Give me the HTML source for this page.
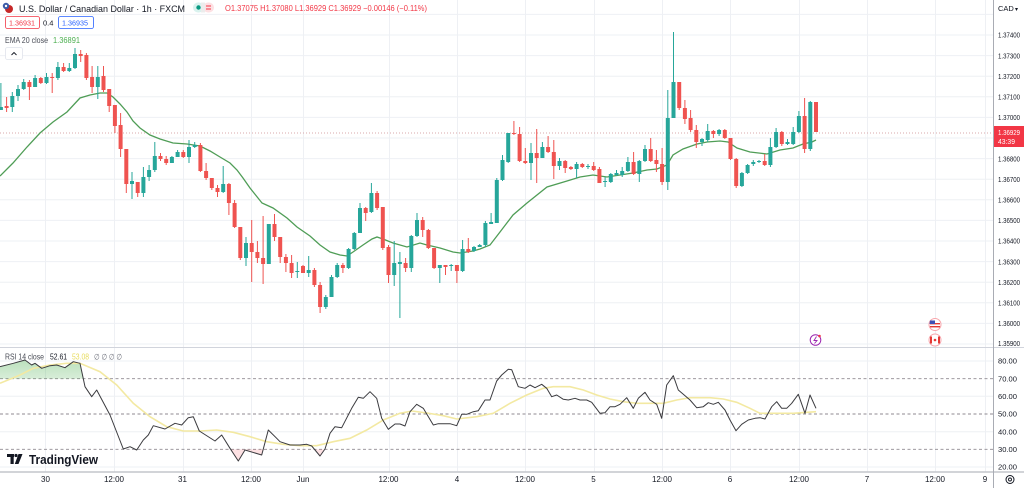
<!DOCTYPE html>
<html><head><meta charset="utf-8">
<style>
html,body{margin:0;padding:0;background:#fff;width:1024px;height:488px;overflow:hidden;}
svg{display:block;font-family:"Liberation Sans",sans-serif;}
.ax{font-size:7.5px;fill:#131722;}
.tm{font-size:8px;fill:#131722;text-anchor:middle;}
</style></head><body>
<svg id="c" width="1024" height="488" viewBox="0 0 1024 488" xmlns="http://www.w3.org/2000/svg">
<defs>
 <linearGradient id="gf" x1="0" y1="0" x2="0" y2="1">
  <stop offset="0" stop-color="#4caf50" stop-opacity="0.38"/>
  <stop offset="1" stop-color="#4caf50" stop-opacity="0.04"/>
 </linearGradient>
 <clipPath id="above70"><rect x="0" y="340" width="993" height="38.7"/></clipPath>
 <clipPath id="below30"><rect x="0" y="449.3" width="993" height="22"/></clipPath>
</defs>
<rect width="1024" height="488" fill="#fff"/>
<g stroke="#eef0f4" stroke-width="1">
 <line x1="0" x2="993" y1="14.4" y2="14.4"/><line x1="0" x2="993" y1="35" y2="35"/><line x1="0" x2="993" y1="55.6" y2="55.6"/><line x1="0" x2="993" y1="76.2" y2="76.2"/><line x1="0" x2="993" y1="96.8" y2="96.8"/><line x1="0" x2="993" y1="117.4" y2="117.4"/><line x1="0" x2="993" y1="138" y2="138"/><line x1="0" x2="993" y1="158.6" y2="158.6"/><line x1="0" x2="993" y1="179.2" y2="179.2"/><line x1="0" x2="993" y1="199.8" y2="199.8"/><line x1="0" x2="993" y1="220.4" y2="220.4"/><line x1="0" x2="993" y1="241" y2="241"/><line x1="0" x2="993" y1="261.6" y2="261.6"/><line x1="0" x2="993" y1="282.2" y2="282.2"/><line x1="0" x2="993" y1="302.8" y2="302.8"/><line x1="0" x2="993" y1="323.4" y2="323.4"/><line x1="0" x2="993" y1="344" y2="344"/>
 <line x1="0" x2="993" y1="361" y2="361"/><line x1="0" x2="993" y1="396.3" y2="396.3"/><line x1="0" x2="993" y1="431.7" y2="431.7"/><line x1="0" x2="993" y1="467" y2="467"/>
 <line x1="45.5" x2="45.5" y1="0" y2="472"/><line x1="114.5" x2="114.5" y1="0" y2="472"/><line x1="183.5" x2="183.5" y1="0" y2="472"/><line x1="251.5" x2="251.5" y1="0" y2="472"/><line x1="303.5" x2="303.5" y1="0" y2="472"/><line x1="389.5" x2="389.5" y1="0" y2="472"/><line x1="457.5" x2="457.5" y1="0" y2="472"/><line x1="525.5" x2="525.5" y1="0" y2="472"/><line x1="594.5" x2="594.5" y1="0" y2="472"/><line x1="662.5" x2="662.5" y1="0" y2="472"/><line x1="730.5" x2="730.5" y1="0" y2="472"/><line x1="799.5" x2="799.5" y1="0" y2="472"/><line x1="867.5" x2="867.5" y1="0" y2="472"/><line x1="935.5" x2="935.5" y1="0" y2="472"/><line x1="985.5" x2="985.5" y1="0" y2="472"/>
</g>
<!-- RSI dashed levels -->
<g stroke="#8f8a90" stroke-width="0.9" stroke-dasharray="3,2.5">
 <line x1="0" x2="993" y1="378.7" y2="378.7"/>
 <line x1="0" x2="993" y1="414" y2="414"/>
 <line x1="0" x2="993" y1="449.3" y2="449.3"/>
</g>
<!-- current price dotted line -->
<line x1="0" x2="993" y1="133" y2="133" stroke="#d8a8ab" stroke-width="1" stroke-dasharray="1,2"/>
<!-- EMA -->
<polyline fill="none" stroke="#4f9d56" stroke-width="1.3" points="0,176 13,163 27,147 40,133 53,122 67,112 80,98 90,95 100,93 107,93 113,97 120,104 127,112 133,121 140,128 150,135 160,139 173,143 187,144 200,146 210,151 220,157 230,163 237,170 243,178 250,188 262,203 273,208 287,218 297,227 310,236 320,245 330,252 340,255 347,256 353,252 363,245 372,239 377,237 383,239 393,243 407,247 420,243 427,245 440,248 453,252 460,253 473,251 480,249 490,245 500,232 513,215 527,203 547,187 567,181 580,177 593,175 607,177 620,175 633,173 647,170 657,169 667,165 673,155 683,149 697,144 707,142 720,141 728,142 737,148 750,152 767,154 780,150 793,148 803,144 812,142 816,140"/>
<g id="candles"></g>
<!-- RSI fills -->
<polygon clip-path="url(#above70)" fill="url(#gf)" points="0,366.7 13.3,363.3 25,360 31.7,365 35,363.3 41.7,368.3 50,365.7 56.7,365 65,367.7 73.3,361.7 80,363.3 85,386.7 91.7,396.7 100,400 0,400"/>
<polygon clip-path="url(#below30)" fill="#f23645" fill-opacity="0.15" points="215,441 221.7,435 230,448.3 238.3,461 245,450 261.7,455 268.3,430 290,445 300,445 306.7,444.3 311.7,446 320,456 325,449 330,433.3 330,449.3 215,449.3"/>
<!-- RSI MA (yellow) -->
<polyline fill="none" stroke="#f3e9a2" stroke-width="1.6" points="0,383.3 20,375 33.3,368.3 50,365 66.7,363.3 80,363.3 100,371.7 116.7,385 133.3,403.3 150,416.7 166.7,426.7 183.3,431 200,431 216.7,430 233.3,432.3 250,436.7 266.7,441.7 283.3,444.3 300,445.7 316.7,445.7 333.3,441.7 350,438.3 366.7,430 383.3,420 400,413.3 412,411 427,413 443.3,415.7 456.7,419 476.7,416.7 493.3,413.3 510,403.3 526.7,395 543.3,388.3 553.3,386.7 570,386.7 583.3,390 596.7,395 610,399 623.3,401.7 636.7,403.3 663.3,403.3 676.7,400 690,397.7 710,397.7 723.3,399 736.7,402.3 750,408.3 760,413.3 793.3,413.3 816,411.7"/>
<!-- RSI line -->
<polyline fill="none" stroke="#3b3b3f" stroke-width="1" stroke-linejoin="round" points="0,366.7 13.3,363.3 25,360 31.7,365 35,363.3 41.7,368.3 50,365.7 56.7,365 65,367.7 73.3,361.7 80,363.3 85,386.7 91.7,396.7 96.7,390 110,415 123.3,449 130,446.7 136.7,450 143.3,440 148.3,435 153.3,425.7 165,429 175,423.3 181.7,425 188.3,417.7 193.3,416.7 199.3,431 215,441 221.7,435 230,448.3 238.3,461 245,450 261.7,455 268.3,430 276.7,438.3 280,441.7 290,445 300,445 306.7,444.3 311.7,446 320,456 325,449 330,433.3 335,426.7 341.7,427.7 351.7,408.3 358.3,397.3 363.3,398.3 370,391.7 376.7,398.3 381.7,418.3 388.3,429.3 395,424 400,424 405,426 410,411.7 416.7,404.3 423.3,408.3 433.3,425 438.3,423.7 450,423.7 456.7,425.7 461.7,414.3 466.7,414.3 473.3,411.7 478.3,410.7 485,400 490,400 496.7,381 501.7,375 508.3,369.3 511.7,369.7 518.3,386.7 525,388.3 530,385 535,387.7 541.7,384.3 546.7,388.3 551.7,396.7 556.7,395 563.3,399.3 568.3,400 575,398.3 580,400 586.7,400 591.7,402.3 600,413.3 605,412.7 610,406.7 615,406.7 620,404.3 626.7,397.7 633.3,408.3 638.3,398.3 645,392.3 650,400 656.7,404.3 661.7,418.3 666.7,385 673.3,375.7 678.3,390 683.3,394.3 690,400 696.7,407.7 703.3,406.7 708.3,402.7 713.3,404.3 718.3,402.3 725,410 730,420 736,430.7 741.7,424.3 748.3,420 755,418.3 760,417.7 765,419 771.7,406.7 776.7,401.7 781.7,408.3 786.7,408.3 791.7,403.3 798.3,394.3 805,413.3 810,395 816,408.3"/>

<!-- separators -->
<line x1="0" x2="1024" y1="347.5" y2="347.5" stroke="#d1d4dc" stroke-width="1"/>
<line x1="0" x2="1024" y1="472" y2="472" stroke="#c4c6cc" stroke-width="1.5"/>
<line x1="993.5" x2="993.5" y1="0" y2="488" stroke="#a9acb4" stroke-width="1"/>

<!-- header -->
<g>
 <circle cx="9" cy="9" r="4" fill="#c62828"/>
 <circle cx="6" cy="6" r="3.2" fill="#3a5ba8"/>
 <circle cx="6" cy="6" r="1.2" fill="#fff"/>
 <text x="19" y="12" font-size="9.5" fill="#131722" textLength="166" lengthAdjust="spacingAndGlyphs">U.S. Dollar / Canadian Dollar · 1h · FXCM</text>
 <rect x="193" y="2.5" width="11" height="10" rx="5" fill="#d9f2ee"/>
 <rect x="203" y="2.5" width="11" height="10" rx="5" fill="#fde0e3"/>
 <rect x="201" y="2.5" width="4" height="10" fill="#ececec"/>
 <circle cx="198.5" cy="7.5" r="2.2" fill="#089981"/>
 <line x1="206" x2="211" y1="6" y2="6" stroke="#f23645" stroke-width="1"/>
 <line x1="206" x2="211" y1="9" y2="9" stroke="#f23645" stroke-width="1"/>
 <text x="225" y="11" font-size="8" fill="#f23645" textLength="202" lengthAdjust="spacingAndGlyphs">O1.37075 H1.37080 L1.36929 C1.36929 −0.00146 (−0.11%)</text>

 <rect x="5.5" y="16.5" width="34" height="12" rx="2" fill="#fff" stroke="#f23645" stroke-width="0.8"/>
 <text x="9" y="25.5" font-size="7.5" fill="#f23645" textLength="26" lengthAdjust="spacingAndGlyphs">1.36931</text>
 <text x="43" y="25.5" font-size="7.5" fill="#131722">0.4</text>
 <rect x="58.5" y="16.5" width="35" height="12" rx="2" fill="#fff" stroke="#2962ff" stroke-width="0.8"/>
 <text x="62" y="25.5" font-size="7.5" fill="#2962ff" textLength="26" lengthAdjust="spacingAndGlyphs">1.36935</text>

 <text x="5" y="43" font-size="8" fill="#4a4d57" textLength="43" lengthAdjust="spacingAndGlyphs">EMA 20 close</text>
 <text x="53" y="43" font-size="8" fill="#4caf50" textLength="27" lengthAdjust="spacingAndGlyphs">1.36891</text>

 <rect x="5.5" y="47.5" width="17" height="12" rx="2" fill="#fff" stroke="#e0e3eb" stroke-width="0.8"/>
 <polyline points="11.5,55 14,52.5 16.5,55" fill="none" stroke="#131722" stroke-width="0.9"/>
</g>

<!-- RSI legend -->
<text x="5" y="359.5" font-size="8" fill="#4a4d57" textLength="39" lengthAdjust="spacingAndGlyphs">RSI 14 close</text>
<text x="50" y="359.5" font-size="8" fill="#131722" textLength="17" lengthAdjust="spacingAndGlyphs">52.61</text>
<text x="72" y="359.5" font-size="8" fill="#e8dc5c" textLength="17" lengthAdjust="spacingAndGlyphs">53.08</text>
<text x="94" y="359.5" font-size="8" fill="#6a6d78" textLength="28" lengthAdjust="spacingAndGlyphs">∅ ∅ ∅ ∅</text>

<!-- TradingView logo -->
<g fill="#131722">
 <rect x="7" y="454" width="7" height="3"/>
 <rect x="10.5" y="454" width="3.2" height="10"/>
 <circle cx="16" cy="455.5" r="1.6"/>
 <polygon points="18.5,454 22.5,454 18.5,464 14.8,464"/>
 <text x="29" y="464" font-size="13" font-weight="bold" textLength="69" lengthAdjust="spacingAndGlyphs">TradingView</text>
</g>

<!-- events -->
<g>
 <circle cx="815.5" cy="340" r="5.3" fill="#fff" stroke="#9c27b0" stroke-width="1"/>
 <polyline points="816.5,336.5 814,340.5 817,340.5 814.5,343.5" fill="none" stroke="#9c27b0" stroke-width="0.9"/>
 <circle cx="819.5" cy="336" r="1.3" fill="#f23645"/>
 <circle cx="935" cy="324.5" r="6" fill="#fff" stroke="#f7a5ab" stroke-width="1"/>
 <rect x="930" y="323" width="10" height="1.4" fill="#e53935"/>
 <rect x="930" y="326" width="10" height="1.4" fill="#e53935"/>
 <path d="M930,320.5 h5 v3.5 h-5.5z" fill="#3f51b5"/>
 <circle cx="935" cy="340" r="6" fill="#fff" stroke="#f7a5ab" stroke-width="1"/>
 <rect x="930" y="336.5" width="2" height="7" fill="#e53935"/>
 <rect x="938" y="336.5" width="2" height="7" fill="#e53935"/>
 <circle cx="935" cy="340" r="1.3" fill="#e53935"/>
</g>

<!-- right axis -->
<text x="998" y="11" font-size="7.5" fill="#131722">CAD</text>
<text x="1015" y="11" font-size="6" fill="#131722">▾</text>
<g class="ax">
 <text x="998" y="37.7" textLength="22" lengthAdjust="spacingAndGlyphs">1.37400</text>
 <text x="998" y="58.3" textLength="22" lengthAdjust="spacingAndGlyphs">1.37300</text>
 <text x="998" y="78.9" textLength="22" lengthAdjust="spacingAndGlyphs">1.37200</text>
 <text x="998" y="99.5" textLength="22" lengthAdjust="spacingAndGlyphs">1.37100</text>
 <text x="998" y="120.1" textLength="22" lengthAdjust="spacingAndGlyphs">1.37000</text>
 <text x="998" y="161.3" textLength="22" lengthAdjust="spacingAndGlyphs">1.36800</text>
 <text x="998" y="181.9" textLength="22" lengthAdjust="spacingAndGlyphs">1.36700</text>
 <text x="998" y="202.5" textLength="22" lengthAdjust="spacingAndGlyphs">1.36600</text>
 <text x="998" y="223.1" textLength="22" lengthAdjust="spacingAndGlyphs">1.36500</text>
 <text x="998" y="243.7" textLength="22" lengthAdjust="spacingAndGlyphs">1.36400</text>
 <text x="998" y="264.3" textLength="22" lengthAdjust="spacingAndGlyphs">1.36300</text>
 <text x="998" y="284.9" textLength="22" lengthAdjust="spacingAndGlyphs">1.36200</text>
 <text x="998" y="305.5" textLength="22" lengthAdjust="spacingAndGlyphs">1.36100</text>
 <text x="998" y="326.1" textLength="22" lengthAdjust="spacingAndGlyphs">1.36000</text>
 <text x="998" y="346" textLength="22" lengthAdjust="spacingAndGlyphs">1.35900</text>
 <text x="998" y="363.7" textLength="19" lengthAdjust="spacingAndGlyphs">80.00</text>
 <text x="998" y="381.4" textLength="19" lengthAdjust="spacingAndGlyphs">70.00</text>
 <text x="998" y="399" textLength="19" lengthAdjust="spacingAndGlyphs">60.00</text>
 <text x="998" y="416.7" textLength="19" lengthAdjust="spacingAndGlyphs">50.00</text>
 <text x="998" y="434.4" textLength="19" lengthAdjust="spacingAndGlyphs">40.00</text>
 <text x="998" y="452" textLength="19" lengthAdjust="spacingAndGlyphs">30.00</text>
 <text x="998" y="469.7" textLength="19" lengthAdjust="spacingAndGlyphs">20.00</text>
</g>
<rect x="994" y="126" width="30" height="21" fill="#f23645"/>
<text x="998" y="135" font-size="7.5" fill="#fff" textLength="22" lengthAdjust="spacingAndGlyphs">1.36929</text>
<text x="998" y="144" font-size="7.5" fill="#fff" textLength="17" lengthAdjust="spacingAndGlyphs">43:39</text>
<!-- settings -->
<circle cx="1010" cy="479.5" r="4" fill="none" stroke="#131722" stroke-width="1"/>
<circle cx="1010" cy="479.5" r="1.5" fill="none" stroke="#131722" stroke-width="0.9"/>

<!-- time axis -->
<g class="tm">
 <text x="45.5" y="482">30</text>
 <text x="114" y="482">12:00</text>
 <text x="182.5" y="482">31</text>
 <text x="251" y="482">12:00</text>
 <text x="303" y="482">Jun</text>
 <text x="388.5" y="482">12:00</text>
 <text x="457" y="482">4</text>
 <text x="525" y="482">12:00</text>
 <text x="593.5" y="482">5</text>
 <text x="662" y="482">12:00</text>
 <text x="730" y="482">6</text>
 <text x="799" y="482">12:00</text>
 <text x="867" y="482">7</text>
 <text x="935" y="482">12:00</text>
 <text x="985" y="482">9</text>
</g>
</svg>
<script>
(function(){
var D=[
[1,107,110,83,110],[0,106,108,97,112],[1,96,107,92,112],[1,89,96,85,101],[1,82,89,79,90],[0,82,87,80,100],[1,78,87,75,87],[0,78,83,77,84],[1,77,83,73,84],[0,77,78,73,93],
[1,67,78,62,80],[0,67,71,63,72],[1,68,71,63,72],[1,54,68,48,69],[0,54,56,50,62],[0,55,78,53,80],[0,77,87,66,93],[1,77,87,66,99],[0,76,90,66,92],[0,89,106,89,112],
[0,105,126,105,133],[0,125,149,113,157],[0,149,184,149,193],[1,181,184,172,199],[0,182,193,182,197],[1,177,193,167,197],[1,170,177,165,181],[1,156,170,142,172],[0,156,159,153,161],[0,159,163,156,165],
[1,157,163,156,163],[1,152,157,150,157],[0,152,157,150,158],[1,147,157,140,163],[1,145,147,142,148],[0,145,171,143,172],[0,171,178,163,180],[0,178,188,178,190],[0,188,192,185,197],[1,184,192,166,193],
[0,184,203,183,215],[0,203,227,200,228],[0,227,258,227,260],[1,243,258,237,266],
[0,243,252,220,282],[0,252,258,241,263],[0,258,264,216,284],[1,224,264,224,264],[0,224,237,214,241],[0,237,257,237,263],[0,257,263,254,272],[0,263,273,255,278],[1,271,272,262,278],[0,266,273,265,273],
[1,270,273,256,277],[0,270,285,268,287],[0,285,307,282,313],[1,297,307,295,309],[1,277,297,275,297],[1,265,277,263,278],[0,265,268,263,273],[1,249,268,248,269],[1,233,249,232,250],[1,208,233,203,233],
[0,208,213,207,221],[1,193,212,183,213],[0,193,208,191,210],[0,207,248,207,250],[0,247,275,245,283],[1,263,275,241,286],[1,262,264,252,318],[0,263,268,258,272],[1,236,268,235,272],[1,220,236,213,237],
[0,220,230,217,237],[0,230,248,229,249],[0,248,268,248,269],[1,265,268,265,283],[0,265,267,265,275],[1,265,266,264,271],[0,265,271,265,283],[1,249,271,240,272],[0,249,252,238,253],[1,247,251,246,252],
[1,245,247,244,247],[1,223,245,221,247],
[1,222,224,213,224],[1,180,223,178,223],[1,160,180,155,181],[1,133,162,133,163],[0,133,134,121,135],[0,134,161,127,162],[0,161,163,148,164],[1,153,163,143,180],
[0,153,158,129,183],[1,147,158,142,158],[0,147,152,136,153],[0,152,166,140,179],[1,161,166,158,170],[0,161,168,160,173],[0,167,169,166,170],[1,164,169,162,178],[0,164,167,163,168],[1,166,167,164,169],
[0,166,170,162,171],[0,169,183,167,183],[1,181,182,177,187],[1,174,182,173,183],[1,173,175,170,176],[1,171,175,167,177],[1,162,171,157,172],[0,162,174,152,175],[1,161,174,160,182],[1,149,161,145,162],
[0,149,161,138,162],[0,160,164,150,172],[0,164,182,148,185],[1,118,182,90,190],
[1,82,118,32,118],[0,82,108,82,110],[0,108,119,100,124],[0,118,130,110,132],[0,130,142,125,148],[1,139,142,138,146],
[1,131,140,124,142],[0,131,134,130,138],[1,130,134,129,136],[0,130,138,129,139],[0,138,159,138,160],[0,159,186,158,188],[1,173,186,172,187],[1,165,173,164,174],[1,162,164,160,166],[1,161,162,160,163],
[0,161,165,154,166],[1,147,165,138,167],[1,132,147,128,148],[0,132,144,131,146],[1,142,144,139,145],[1,132,144,127,145],[1,116,132,111,133],[0,116,149,98,153],[1,102,149,101,151],[0,102,132,102,132]
];
var NS="http://www.w3.org/2000/svg";
var g=document.getElementById("candles");
var n=D.length, step=815.1/(n-1);
for(var i=0;i<n;i++){
 var d=D[i], x=0.9+i*step, col=d[0]?"#26a69a":"#ef5350";
 var l=document.createElementNS(NS,"line");
 l.setAttribute("x1",x);l.setAttribute("x2",x);
 l.setAttribute("y1",d[3]);l.setAttribute("y2",d[4]);
 l.setAttribute("stroke",col);l.setAttribute("stroke-width","1");
 g.appendChild(l);
 var r=document.createElementNS(NS,"rect");
 r.setAttribute("x",x-2);r.setAttribute("y",d[1]);
 r.setAttribute("width","4");r.setAttribute("height",Math.max(1,d[2]-d[1]));
 r.setAttribute("fill",col);
 g.appendChild(r);
}
})();
</script>
</body></html>
